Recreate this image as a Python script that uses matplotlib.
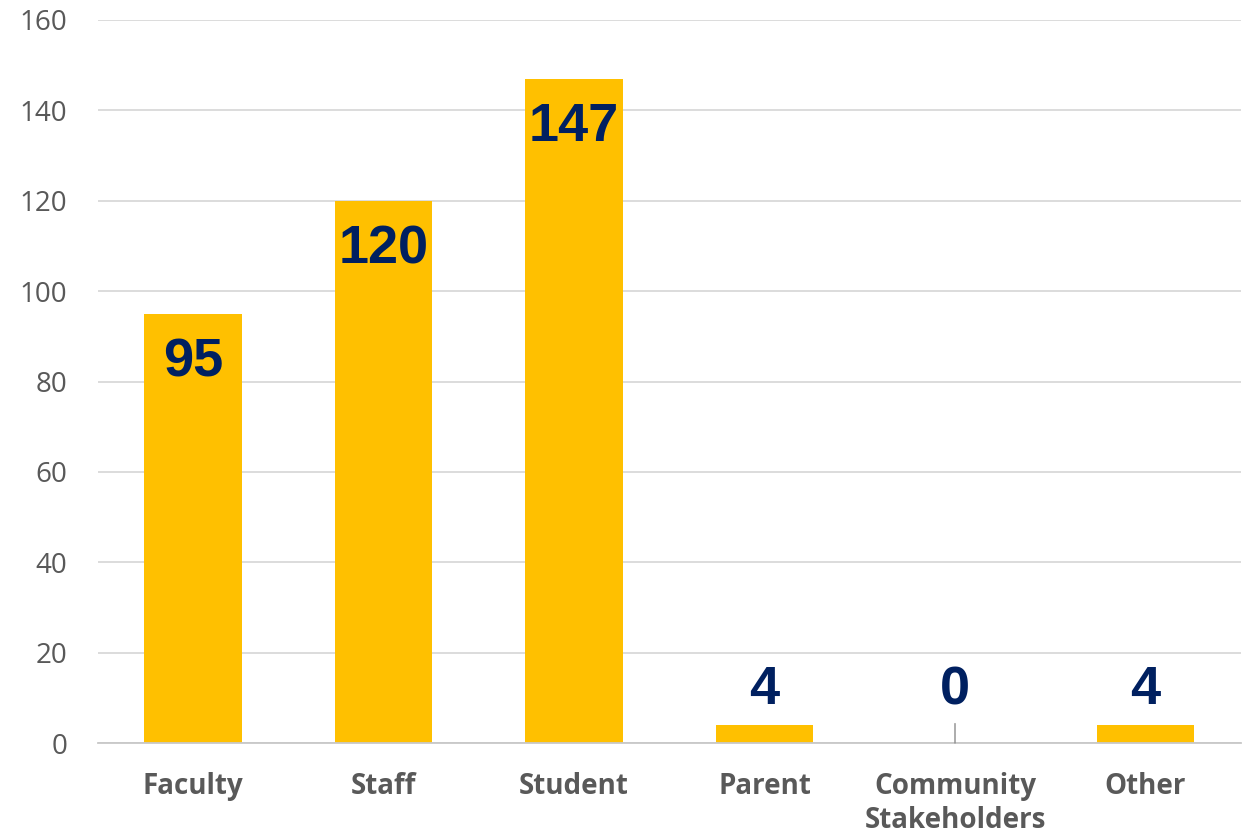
import matplotlib
matplotlib.use("Agg")
import matplotlib.pyplot as plt

categories = ["Faculty", "Staff", "Student", "Parent", "Community\nStakeholders", "Other"]
values = [95, 120, 147, 4, 0, 4]
yticks = [0, 20, 40, 60, 80, 100, 120, 140, 160]

BAR = "#FFC000"
NAVY = "#002060"
GRAY_TXT = "#595959"
GRID = "#D9D9D9"

fig = plt.figure(figsize=(12.5, 8.36), dpi=100)
ax = fig.add_axes([0.0782, 0.1112, 0.9144, 0.8649])

x = list(range(len(categories)))
ax.bar(x, values, width=0.51, color=BAR, zorder=3)

ax.set_xlim(-0.5, len(categories) - 0.5)
ax.set_ylim(0, 160)
ax.set_yticks(yticks)
ax.set_yticklabels([str(t) for t in yticks], fontfamily="Open Sans", fontsize=20, color=GRAY_TXT)
ax.set_xticks(x)
ax.set_xticklabels(categories, fontfamily="Open Sans", fontweight="bold", fontsize=20,
                   color=GRAY_TXT, linespacing=1.22, va="top")
ax.tick_params(axis="both", length=0)
ax.tick_params(axis="y", pad=22)
ax.tick_params(axis="x", pad=21)

for s in ["top", "right", "left"]:
    ax.spines[s].set_visible(False)
ax.spines["bottom"].set_color("#C8C8C8")
ax.spines["bottom"].set_linewidth(1.3)
ax.spines["bottom"].set_zorder(4)
ax.yaxis.grid(True, color=GRID, linewidth=1.3, zorder=0)
ax.set_axisbelow(True)

for xi, v in zip(x, values):
    if v >= 20:
        ax.annotate(str(v), (xi, v), xytext=(0, -17), textcoords="offset points",
                    ha="center", va="top", fontsize=39, fontweight="bold",
                    fontfamily="Liberation Sans", color=NAVY, zorder=5)
    elif v > 0:
        ax.annotate(str(v), (xi, v), xytext=(0, 7), textcoords="offset points",
                    ha="center", va="bottom", fontsize=39, fontweight="bold",
                    fontfamily="Liberation Sans", color=NAVY, zorder=5)
    else:
        ax.annotate(str(v), (xi, v), xytext=(0, 20), textcoords="offset points",
                    ha="center", va="bottom", fontsize=39, fontweight="bold",
                    fontfamily="Liberation Sans", color=NAVY, zorder=5,
                    arrowprops=dict(arrowstyle="-", color="#8C8C8C", lw=1,
                                    shrinkA=4, shrinkB=0))

fig.savefig("out.png", dpi=100)
